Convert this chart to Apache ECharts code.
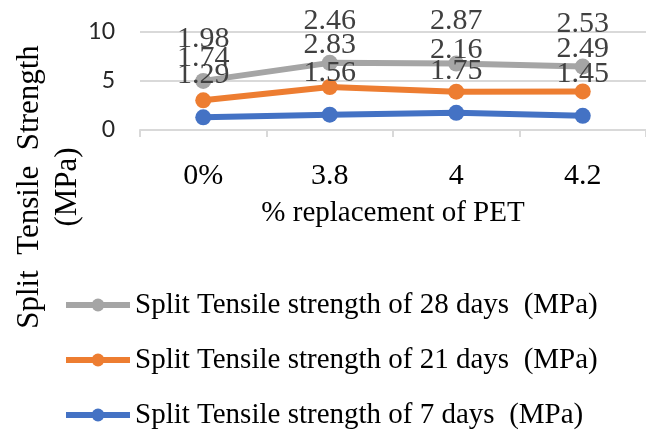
<!DOCTYPE html>
<html>
<head>
<meta charset="utf-8">
<script src="https://cdn.jsdelivr.net/npm/echarts@6/dist/echarts.min.js"></script>
<style>
  html, body { margin: 0; padding: 0; background: #ffffff; }
  #chart { width: 646px; height: 436px; }
</style>
</head>
<body>
<div id="chart"></div>
<script>
// Replacement levels of PET on the category axis
const categories = ['0%', '3.8', '4', '4.2'];

// Split tensile strength (MPa) by curing age
const days7 = [1.29, 1.56, 1.75, 1.45];
const days21 = [1.74, 2.83, 2.16, 2.49];
const days28 = [1.98, 2.46, 2.87, 2.53];

const seriesNames = [
  'Split Tensile strength of 7 days  (MPa)',
  'Split Tensile strength of 21 days  (MPa)',
  'Split Tensile strength of 28 days  (MPa)'
];

// Value axis ticks
const yMin = 0;
const yMax = 10;
const yStep = 5;

const serif = '"Liberation Serif", "Times New Roman", serif';
const colors = ['#4472c4', '#ed7d31', '#a5a5a5'];

const chart = echarts.init(document.getElementById('chart'), null, { renderer: 'canvas' });

function lineSeries(name, data, color) {
  return {
    name: name,
    type: 'line',
    stack: 'total',
    data: data,
    symbol: 'circle',
    symbolSize: 16,
    lineStyle: { color: color, width: 6 },
    itemStyle: { color: color },
    label: {
      show: true,
      position: 'top',
      distance: 19,
      fontFamily: serif,
      fontSize: 30,
      lineHeight: 30,
      color: '#404040'
    },
    z: 3
  };
}

chart.setOption({
  animation: false,
  backgroundColor: '#ffffff',
  grid: { left: 140, right: -9, top: 32, bottom: 306, containLabel: false },
  xAxis: {
    type: 'category',
    data: categories,
    boundaryGap: true,
    axisLine: { lineStyle: { color: '#d9d9d9', width: 2 } },
    axisTick: { show: true, length: 7, lineStyle: { color: '#d9d9d9', width: 2 } },
    axisLabel: { fontFamily: serif, fontSize: 30, lineHeight: 30, color: '#000000', margin: 31 },
    name: '% replacement of PET',
    nameLocation: 'middle',
    nameGap: 68,
    nameTextStyle: { fontFamily: serif, fontSize: 29, lineHeight: 30, color: '#000000' }
  },
  yAxis: {
    type: 'value',
    min: yMin,
    max: yMax,
    interval: yStep,
    axisLine: { show: false },
    axisTick: { show: false },
    splitLine: { lineStyle: { color: '#d9d9d9', width: 2 } },
    axisLabel: { fontFamily: 'Lato, "Liberation Sans", sans-serif', fontSize: 23, color: '#262626', margin: 25 }
  },
  legend: {
    orient: 'vertical',
    left: 63,
    top: 290,
    height: 200,
    padding: 0,
    data: [seriesNames[2], seriesNames[1], seriesNames[0]],
    itemWidth: 64,
    itemHeight: 16,
    itemGap: 25,
    textStyle: { fontFamily: serif, fontSize: 29, lineHeight: 30, color: '#000000' },
    lineStyle: { width: 6 }
  },
  graphic: [{
    type: 'text',
    x: 49,
    y: 187,
    rotation: Math.PI / 2,
    style: {
      text: 'Split  Tensile  Strength\n(MPa)',
      fontFamily: serif,
      fontSize: 31,
      lineHeight: 38,
      fill: '#000000',
      align: 'center',
      verticalAlign: 'middle'
    }
  }],
  series: [
    lineSeries(seriesNames[0], days7, colors[0]),
    lineSeries(seriesNames[1], days21, colors[1]),
    lineSeries(seriesNames[2], days28, colors[2])
  ]
});
</script>
</body>
</html>
